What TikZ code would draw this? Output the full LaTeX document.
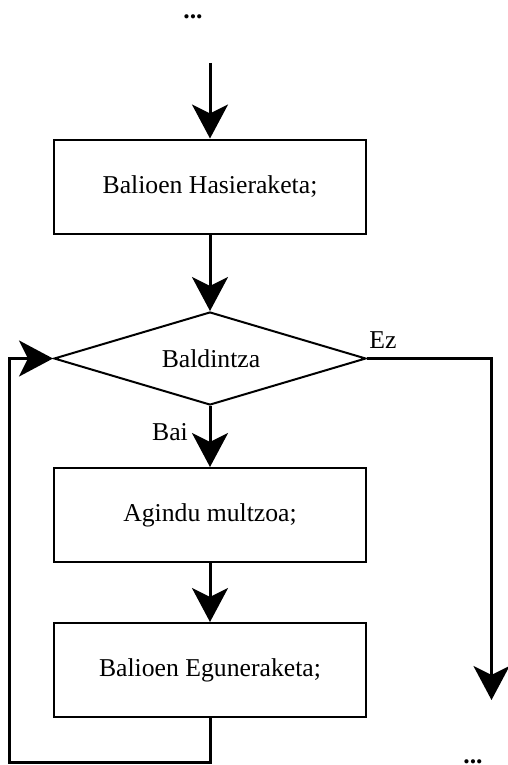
\documentclass[tikz,border=0pt]{standalone}
\usepackage{fontspec}
\setmainfont{Liberation Serif}
\usetikzlibrary{arrows.meta,shapes.geometric}
\begin{document}
\begin{tikzpicture}[x=1pt,y=-1pt,
  every node/.style={font=\fontsize{25.7}{30}\selectfont},
  box/.style={draw,line width=2pt,minimum width=312pt,minimum height=94pt,inner sep=0pt},
  cond/.style={draw,line width=2pt,diamond,aspect=3.355,minimum width=312pt,minimum height=93pt,inner sep=0pt},
  conn/.style={line width=3pt,-{Stealth[length=34pt,width=36pt,inset=9pt]}},
  lbl/.style={inner sep=0pt}]
\useasboundingbox (0,0) rectangle (507,765);
\node[lbl,anchor=base] (dtop) at (193,19) {\textbf{...}};
\node[lbl,anchor=base] (dbot) at (473,763.5) {\textbf{...}};
\coordinate (start) at (210,63);
\node[box] (b1) at (210,186.5) {Balioen Hasieraketa;};
\node[cond] (d) at (210,358.5) {};
\node[lbl] (dl) at (211,359) {Baldintza};
\node[box] (b2) at (210,515) {Agindu multzoa;};
\node[box] (b3) at (210,670) {Balioen Eguneraketa;};
\node[lbl] (bai) at (170,432) {Bai};
\node[lbl] (ez) at (383,340) {Ez};
\coordinate (l1) at (210,762.5);
\coordinate (l2) at (9,762.5);
\coordinate (l3) at (9,358.5);
\coordinate (r1) at (491.5,358.5);
\coordinate (r2) at (491.5,700);
\draw[conn] (start) -- (b1.north);
\draw[conn] (b1.south) -- (d.north);
\draw[conn] (d.south) -- (b2.north);
\draw[conn] (b2.south) -- (b3.north);
\draw[conn] (b3.south) -- (l1) -- (l2) -- (l3) -- (d.west);
\draw[conn] (d.east) -- (r1) -- (r2);
\end{tikzpicture}
\end{document}
